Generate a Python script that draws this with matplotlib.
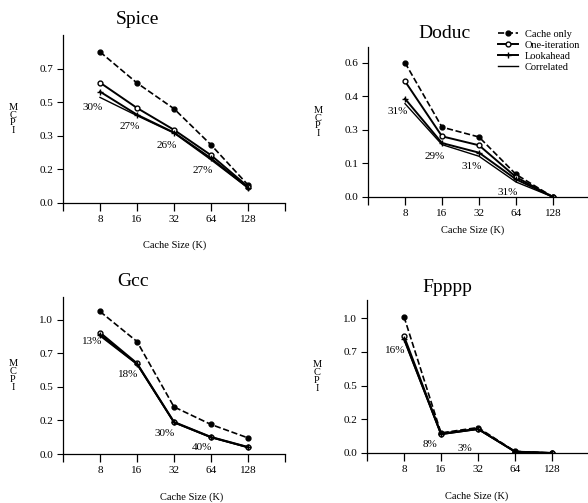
import matplotlib.pyplot as plt

plt.rcParams['font.family'] = ['Liberation Serif', 'DejaVu Serif']

cache_sizes = ["8", "16", "32", "64", "128"]
series_names = ["Cache only", "One-iteration", "Lookahead", "Correlated"]

# MCPI values per benchmark (cache only, one-iteration, lookahead, correlated)
spice = [
    [0.787, 0.625, 0.491, 0.303, 0.094],
    [0.627, 0.495, 0.381, 0.249, 0.085],
    [0.580, 0.460, 0.367, 0.233, 0.080],
    [0.550, 0.455, 0.364, 0.225, 0.078],
]
doduc = [
    [0.600, 0.312, 0.268, 0.101, 0.0],
    [0.517, 0.271, 0.231, 0.089, 0.0],
    [0.439, 0.241, 0.198, 0.079, 0.0],
    [0.417, 0.234, 0.182, 0.067, 0.0],
]
gcc = [
    [1.062, 0.838, 0.351, 0.220, 0.120],
    [0.905, 0.676, 0.239, 0.127, 0.052],
    [0.890, 0.672, 0.236, 0.125, 0.050],
    [0.880, 0.668, 0.234, 0.123, 0.048],
]
fpppp = [
    [1.012, 0.149, 0.189, 0.012, 0.0],
    [0.868, 0.144, 0.180, 0.010, 0.0],
    [0.850, 0.140, 0.178, 0.010, 0.0],
    [0.840, 0.138, 0.176, 0.010, 0.0],
]

# improvement percentages and where they sit (x index, y value)
spice_pct = ["30%", "27%", "26%", "27%"]
spice_pct_pos = [(-0.19, 0.496), (0.81, 0.397), (1.81, 0.298), (2.78, 0.167)]
doduc_pct = ["31%", "29%", "31%", "31%"]
doduc_pct_pos = [(-0.19, 0.38), (0.81, 0.182), (1.8, 0.137), (2.77, 0.021)]
gcc_pct = ["13%", "18%", "30%", "40%"]
gcc_pct_pos = [(-0.22, 0.838), (0.77, 0.596), (1.76, 0.152), (2.75, 0.045)]
fpppp_pct = ["16%", "8%", "3%"]
fpppp_pct_pos = [(-0.25, 0.764), (0.69, 0.065), (1.65, 0.033)]

styles = [
    dict(ls='--', marker='o', ms=3.5, mfc='black', lw=1.2),
    dict(ls='-', marker='o', ms=3.5, mfc='white', lw=1.4),
    dict(ls='-', marker='+', ms=4, mfc='black', lw=1.4),
    dict(ls='-', marker=None, lw=1.0),
]


def draw_panel(rect, title, title_xy, data, yticks, ylabels, ytop, pcts, pct_pos,
               xlabel_x, xlabel_y):
    ax = fig.add_axes(rect)
    xs = list(range(len(cache_sizes)))
    for vals, st, name in zip(data, styles, series_names):
        ax.plot(xs, vals, color='black', label=name, **st)
    ax.set_xlim(-1, 5)
    ax.set_ylim(0, ytop)
    ax.set_xticks([-1] + xs + [5])
    ax.set_xticklabels([""] + cache_sizes + [""], fontsize=8)
    ax.set_yticks(yticks)
    ax.set_yticklabels(ylabels, fontsize=8)
    ax.tick_params(axis='x', length=5.5, width=0.9, direction='out', pad=3)
    ax.tick_params(axis='y', length=4, width=0.8, direction='out', pad=3)
    for s in ['top', 'right']:
        ax.spines[s].set_visible(False)
    for s in ['left', 'bottom']:
        ax.spines[s].set_linewidth(0.9)
    for txt, (px, py) in zip(pcts, pct_pos):
        ax.text(px, py, txt, fontsize=8, ha='center', va='center')
    fig.text(title_xy[0] / 588, 1 - title_xy[1] / 503, title, fontsize=14,
             ha='center', va='center')
    fig.text(xlabel_x / 588, 1 - xlabel_y / 503, "Cache Size (K)", fontsize=7.5,
             ha='center', va='center')
    lx = rect[0] * 588 - 50
    ly = 503 - (rect[1] + rect[3] * 0.5) * 503
    fig.text(lx / 588, 1 - ly / 503, "M\nC\nP\nI", fontsize=7.5, ha='center',
             va='center', linespacing=0.85)
    return ax


fig = plt.figure(figsize=(5.88, 5.03), dpi=100)

draw_panel([63 / 588, 300 / 503, 222 / 588, 168 / 503], "Spice", (137, 20), spice,
           [0, 0.175, 0.35, 0.525, 0.7], ["0.0", "0.2", "0.3", "0.5", "0.7"], 0.875,
           spice_pct, spice_pct_pos, 175, 245)
ax_d = draw_panel([368 / 588, 306 / 503, 222 / 588, 150 / 503], "Doduc", (445, 33), doduc,
                  [0, 0.15, 0.3, 0.45, 0.6], ["0.0", "0.1", "0.3", "0.4", "0.6"], 0.67,
                  doduc_pct, doduc_pct_pos, 473, 230)
draw_panel([63 / 588, 49 / 503, 222 / 588, 157 / 503], "Gcc", (133, 282), gcc,
           [0, 0.25, 0.5, 0.75, 1.0], ["0.0", "0.2", "0.5", "0.7", "1.0"], 1.17,
           gcc_pct, gcc_pct_pos, 192, 497)
draw_panel([367 / 588, 50 / 503, 222 / 588, 153 / 503], "Fpppp", (447, 287), fpppp,
           [0, 0.25, 0.5, 0.75, 1.0], ["0.0", "0.2", "0.5", "0.7", "1.0"], 1.136,
           fpppp_pct, fpppp_pct_pos, 477, 496)

ax_d.legend(loc='upper left', bbox_to_anchor=(0.56, 1.15), frameon=False, fontsize=7.5,
            handlelength=2.0, handletextpad=0.6, labelspacing=0.15, borderpad=0)

fig.savefig("out.png", dpi=100)
